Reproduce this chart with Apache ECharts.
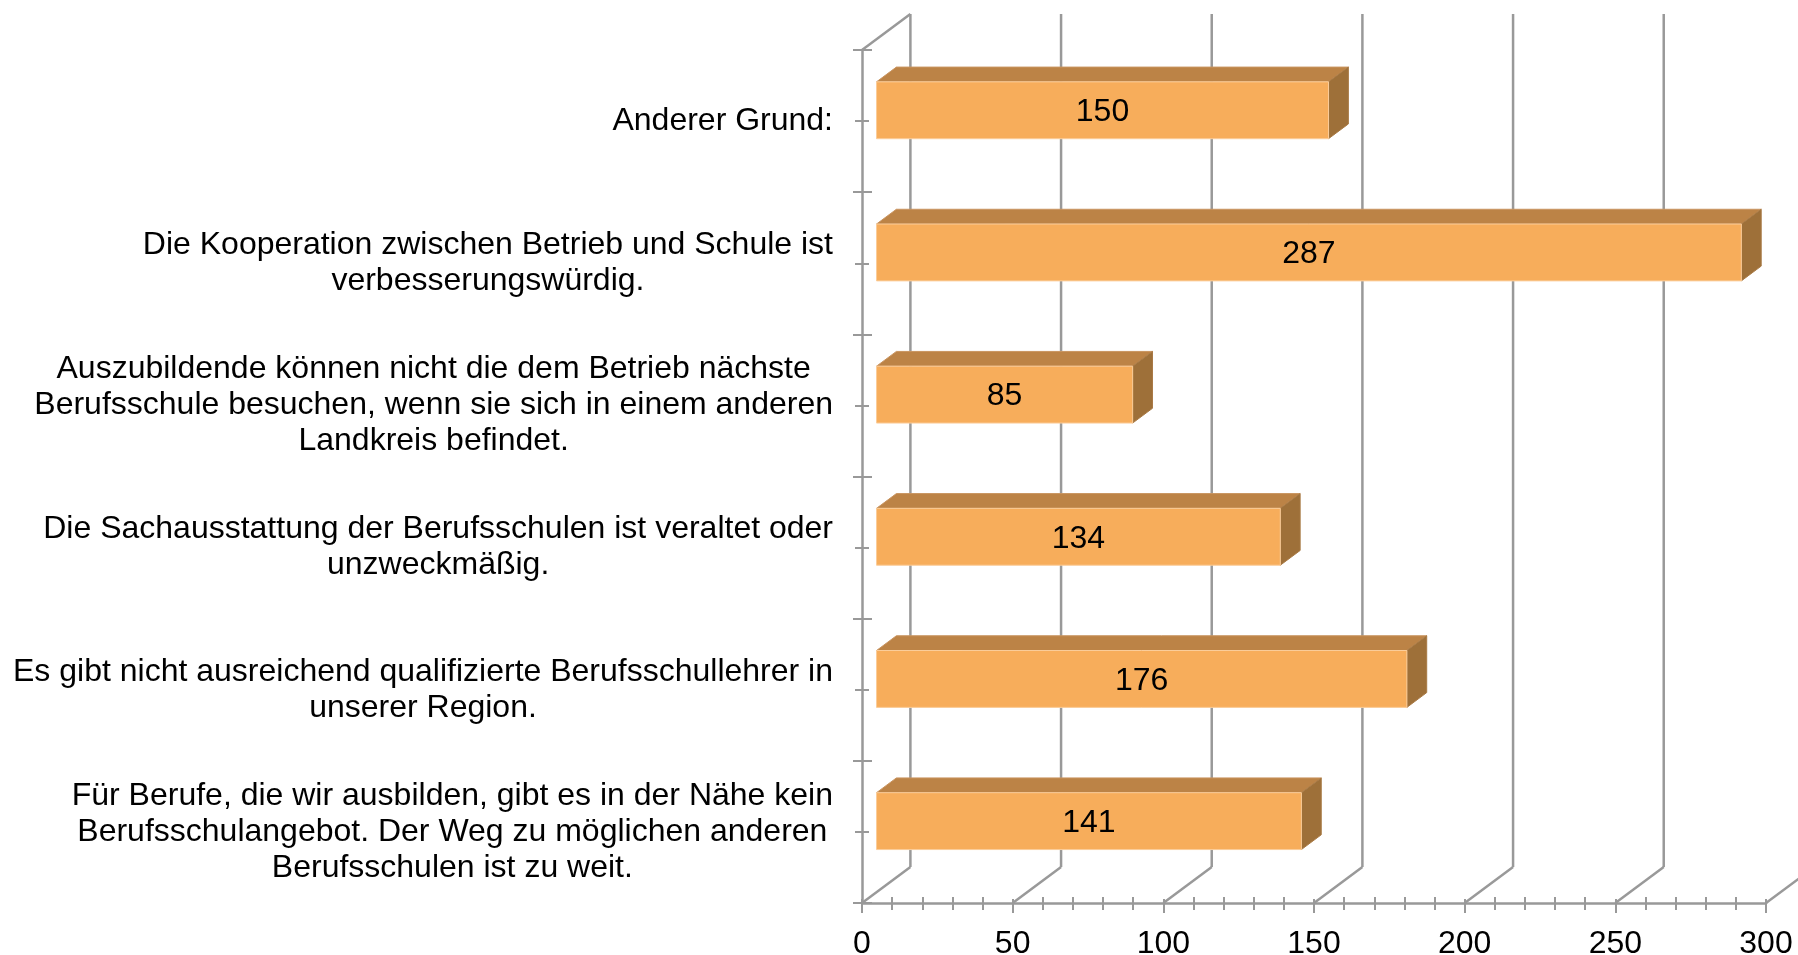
<!DOCTYPE html>
<html>
<head>
<meta charset="utf-8">
<title>Berufsschule Gründe</title>
<script src="https://cdn.jsdelivr.net/npm/echarts@6/dist/echarts.min.js"></script>
<style>
  html, body { margin: 0; padding: 0; background: #fff; }
  #chart { width: 1798px; height: 955px; }
</style>
</head>
<body>
<div id="chart"></div>
<script>
// categories bottom -> top (category axis starts at the bottom)
var categories = [
  "Für Berufe, die wir ausbilden, gibt es in der Nähe kein\nBerufsschulangebot. Der Weg zu möglichen anderen\nBerufsschulen ist zu weit.",
  "Es gibt nicht ausreichend qualifizierte Berufsschullehrer in\nunserer Region.",
  "Die Sachausstattung der Berufsschulen ist veraltet oder\nunzweckmäßig.",
  "Auszubildende können nicht die dem Betrieb nächste\nBerufsschule besuchen, wenn sie sich in einem anderen\nLandkreis befindet.",
  "Die Kooperation zwischen Betrieb und Schule ist\nverbesserungswürdig.",
  "Anderer Grund:"
];
var values = [141, 176, 134, 85, 287, 150];
var xTicks = [0, 50, 100, 150, 200, 250, 300];

// 3D look
var DX = 48.4, DY = -36;        // depth of the floor / walls
var FRONT = 0.3, BACK = 0.71;   // bar depth as part of the wall depth
var gridColor = "#999999";
var lineW = 2.5;
var fontFam = "'Liberation Sans', Arial, sans-serif";
var fs = 32;

var myChart = echarts.init(document.getElementById("chart"));

function wallItem(params, api) {
  var cs = params.coordSys;
  var v = api.value(0);
  var x = api.coord([v, 0])[0];
  var bottom = cs.y + cs.height;
  var top = cs.y;
  var ls = { stroke: gridColor, lineWidth: lineW };
  var children = [
    { type: "line", shape: { x1: x, y1: bottom, x2: x + DX, y2: bottom + DY }, style: ls },
    { type: "line", shape: { x1: x + DX, y1: bottom + DY, x2: x + DX, y2: top + DY }, style: ls }
  ];
  if (v === 0) {
    children.push({ type: "line", shape: { x1: x, y1: top, x2: x + DX, y2: top + DY }, style: ls });
  }
  return { type: "group", children: children };
}

function barItem(params, api) {
  var idx = api.value(0);
  var val = api.value(1);
  var p0 = api.coord([0, idx]);
  var p1 = api.coord([val, idx]);
  var h = api.size([0, 1])[1] * 0.4;
  var fx = DX * FRONT, fy = DY * FRONT;
  var bx = DX * BACK, by = DY * BACK;
  var xl = p0[0] + fx, xr = p1[0] + fx;
  var yt = p0[1] + fy - h / 2, yb = p0[1] + fy + h / 2;
  var ddx = bx - fx, ddy = by - fy;
  return {
    type: "group",
    children: [
      {
        type: "polygon",
        shape: { points: [[xl, yt], [xr, yt], [xr + ddx, yt + ddy], [xl + ddx, yt + ddy]] },
        style: { fill: "#bc8346", stroke: "#c99460", lineWidth: 1 }
      },
      {
        type: "polygon",
        shape: { points: [[xr, yt], [xr + ddx, yt + ddy], [xr + ddx, yb + ddy], [xr, yb]] },
        style: { fill: "#9e7039", stroke: "#a97a45", lineWidth: 1 }
      },
      {
        type: "rect",
        shape: { x: xl, y: yt, width: xr - xl, height: yb - yt },
        style: { fill: "#f7ad5b", stroke: "#fbcd9a", lineWidth: 1 }
      },
      {
        type: "text",
        style: {
          text: String(val),
          x: (xl + xr) / 2,
          y: (yt + yb) / 2 + 2,
          align: "center",
          verticalAlign: "middle",
          fill: "#000",
          font: fs + "px " + fontFam
        }
      }
    ]
  };
}

var barData = values.map(function (v, i) { return [i, v]; });
var wallData = xTicks.map(function (v) { return [v, 0]; });

var catAxisBase = {
  type: "category",
  data: categories,
  position: "left",
  axisLine: { show: false },
  axisLabel: { show: false },
  splitLine: { show: false }
};

var option = {
  animation: false,
  grid: { left: 862, right: 32, top: 50, bottom: 52, containLabel: false, outerBoundsMode: "none" },
  xAxis: [
    {
      type: "value",
      min: 0,
      max: 300,
      interval: 50,
      position: "bottom",
      axisLine: { show: true, lineStyle: { color: gridColor, width: lineW } },
      axisTick: { show: true, length: 10, lineStyle: { color: gridColor, width: 2 } },
      minorTick: { show: true, splitNumber: 5, length: 7, lineStyle: { color: gridColor, width: 2 } },
      axisLabel: { margin: 25, color: "#000", fontSize: fs, fontFamily: fontFam },
      splitLine: { show: false }
    },
    {
      type: "value",
      min: 0,
      max: 300,
      interval: 50,
      position: "bottom",
      axisLine: { show: false },
      axisTick: { show: true, inside: true, length: 4, lineStyle: { color: gridColor, width: 2 } },
      minorTick: { show: true, splitNumber: 5, length: 6, lineStyle: { color: gridColor, width: 2 } },
      axisLabel: { show: false },
      splitLine: { show: false }
    }
  ],
  yAxis: [
    {
      type: "category",
      data: categories,
      position: "left",
      axisLine: { show: true, lineStyle: { color: gridColor, width: lineW } },
      axisTick: { show: true, length: 9, lineStyle: { color: gridColor, width: 2 } },
      axisLabel: {
        margin: 29,
        align: "right",
        color: "#000",
        fontSize: fs,
        fontFamily: fontFam,
        lineHeight: 36,
        formatter: function (s) {
          return s.split("\n").map(function (l) { return "{c|" + l + "}"; }).join("\n");
        },
        rich: { c: { align: "center", fontSize: fs, fontFamily: fontFam, lineHeight: 36, color: "#000" } }
      },
      splitLine: { show: false }
    },
    Object.assign({}, catAxisBase, {
      axisTick: { show: true, inside: true, length: 10, lineStyle: { color: gridColor, width: 2 } }
    }),
    Object.assign({}, catAxisBase, {
      axisTick: { show: true, alignWithLabel: true, length: 7, lineStyle: { color: gridColor, width: 2 } }
    }),
    Object.assign({}, catAxisBase, {
      axisTick: { show: true, alignWithLabel: true, inside: true, length: 7, lineStyle: { color: gridColor, width: 2 } }
    })
  ],
  series: [
    {
      name: "walls",
      type: "custom",
      clip: false,
      z: 1,
      renderItem: wallItem,
      encode: { x: 0, y: 1 },
      data: wallData
    },
    {
      name: "Anzahl",
      type: "custom",
      clip: false,
      z: 5,
      renderItem: barItem,
      encode: { x: 1, y: 0 },
      data: barData
    }
  ]
};

myChart.setOption(option);
window.addEventListener("resize", function () {
  myChart.resize();
});
</script>
</body>
</html>
